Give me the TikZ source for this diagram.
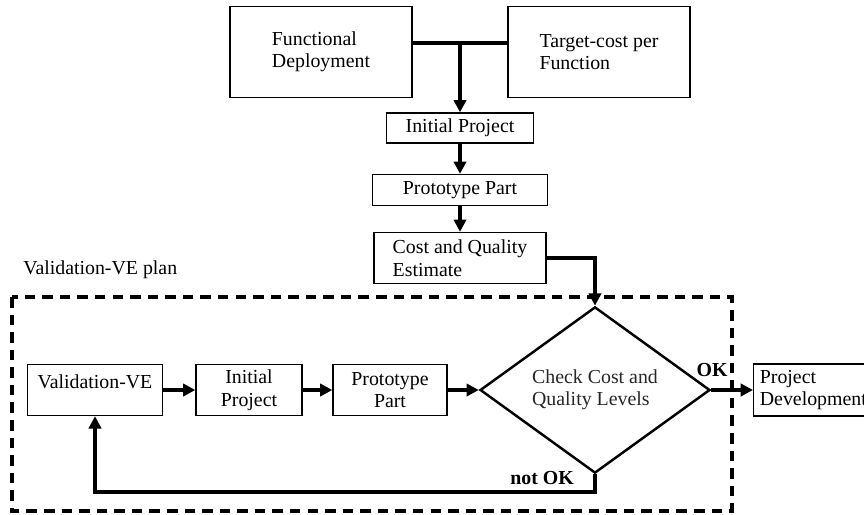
\documentclass[tikz,border=0pt]{standalone}
\usepackage{fontspec}
\setmainfont{Liberation Serif}
\usetikzlibrary{arrows.meta,shapes.geometric}

\tikzset{
  box/.style={draw,line width=0.8pt,font=\fontsize{11.3}{12.8}\selectfont,align=center,inner sep=2pt},
  decide/.style={diamond,draw,line width=1.4pt,font=\fontsize{11.3}{12.8}\selectfont,text=black!85,
    align=left,inner sep=0pt,minimum width=4.6cm,minimum height=2.92cm},
  lbl/.style={font=\fontsize{11.3}{12.8}\selectfont,inner sep=0pt},
  flow/.style={line width=1.9pt,-{Triangle[length=7pt,width=7pt]}},
  link/.style={line width=1.9pt}
}

\begin{document}
\begin{tikzpicture}[x=0.02cm,y=-0.02cm]
  \useasboundingbox (0,0) rectangle (864,514);
  % target costing chain
  \node[box,align=left,minimum width=3.64cm,minimum height=1.82cm] (fd) at (321,52) {Functional\\Deployment};
  \node[box,align=left,minimum width=3.64cm,minimum height=1.82cm] (tc) at (599,52) {Target-cost per\\Function};
  \node[box,minimum width=2.94cm,minimum height=0.6cm] (ip) at (460,128) {Initial Project};
  \node[box,minimum width=3.5cm,minimum height=0.62cm] (pp) at (460,190) {Prototype Part};
  \node[box,align=left,minimum width=3.44cm,minimum height=1.02cm] (cq) at (460,258) {Cost and Quality\\Estimate};
  \coordinate (join) at (460,43);
  \draw[link] (fd.east |- join) -- (tc.west |- join);
  \draw[flow] (join) -- (ip.north);
  \draw[flow] (ip) -- (pp);
  \draw[flow] (pp) -- (cq);

  % validation-VE loop
  \node[lbl,anchor=west] (plan) at (23,270) {Validation-VE plan};
  \draw[line width=1.9pt,dash pattern=on 6pt off 4pt] (12,297) rectangle (732,511);
  \node[box,minimum width=2.7cm,minimum height=1.02cm] (val) at (95,390) {Validation-VE\\[-3pt]\mbox{}};
  \node[box,minimum width=2.12cm,minimum height=1.02cm] (ip2) at (249,390) {Initial\\Project};
  \node[box,minimum width=2.28cm,minimum height=1.02cm] (pp2) at (390,390) {Prototype\\Part};
  \node[decide] (chk) at (595,390) {Check Cost and\\Quality Levels};
  \node[box,anchor=west,align=left,text width=2.4cm,inner sep=3.5pt,minimum height=1.04cm] (pd) at (753,390) {Project\\Development};
  \draw[flow] (cq.east) -| (chk.north);
  \draw[flow] (val) -- (ip2);
  \draw[flow] (ip2) -- (pp2);
  \draw[flow] (pp2) -- (chk.west);
  \draw[flow] (chk.east) -- (pd.west);
  \coordinate (back) at (chk.south |- 0,492);
  \draw[flow] (chk.south) -- (back) -| (val.south);
  \node[lbl,font=\fontsize{11.3}{12.8}\selectfont\bfseries] (ok) at (712,370) {OK};
  \node[lbl,font=\fontsize{11.3}{12.8}\selectfont\bfseries] (notok) at (542,478) {not OK};
\end{tikzpicture}
\end{document}
